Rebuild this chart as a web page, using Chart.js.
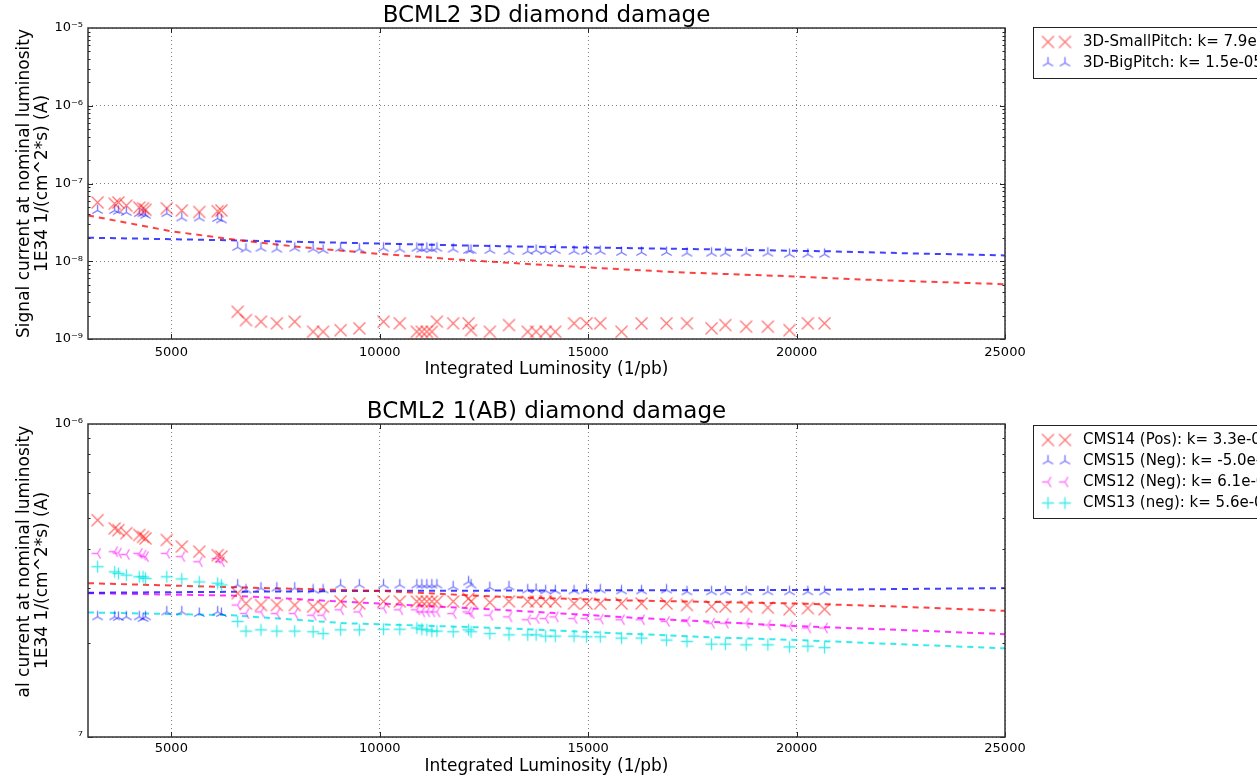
<!DOCTYPE html>
<html>
<head>
<meta charset="utf-8">
<script src="https://cdn.jsdelivr.net/npm/chart.js@4.4.1/dist/chart.umd.min.js"></script>
<style>
  html, body { margin: 0; padding: 0; background: #fff; overflow: hidden; }
  .panel { position: absolute; left: 0; width: 1257px; height: 390px; }
  #topPanel { top: 0; }
  #bottomPanel { top: 390px; }
</style>
</head>
<body>
<div class="panel" id="topPanel"><canvas id="topChart" width="1257" height="390"></canvas></div>
<div class="panel" id="bottomPanel"><canvas id="bottomChart" width="1257" height="390"></canvas></div>
<script>
// DATA
// integrated luminosity of each point (1/pb), shared by every series
const lumi = [
  3230, 3640, 3730, 3920, 4230, 4320, 4380, 4890, 5250, 5670, 6110, 6200,
  6590, 6790, 7150, 7530, 7960, 8400, 8640, 9060, 9510, 10090,
  10480, 10890, 11010, 11130, 11250, 11370, 11760, 12130, 12190, 12640,
  13100, 13550, 13750, 13980, 14210, 14660, 14960, 15290, 15800, 16280,
  16880, 17370, 17960, 18290, 18790, 19310, 19830, 20270, 20670
];

// top panel: 3D diamonds
const smallPitch = [
  5.7e-8, 5.5e-8, 5.7e-8, 5.2e-8, 4.9e-8, 4.8e-8, 4.6e-8, 4.8e-8, 4.5e-8, 4.3e-8, 4.4e-8, 4.5e-8,
  2.24e-9, 1.75e-9, 1.67e-9, 1.59e-9, 1.67e-9, 1.24e-9, 1.24e-9, 1.30e-9, 1.37e-9, 1.67e-9,
  1.59e-9, 1.24e-9, 1.24e-9, 1.24e-9, 1.24e-9, 1.67e-9, 1.59e-9, 1.59e-9, 1.30e-9, 1.24e-9,
  1.51e-9, 1.24e-9, 1.24e-9, 1.24e-9, 1.24e-9, 1.59e-9, 1.59e-9, 1.59e-9, 1.24e-9, 1.59e-9,
  1.59e-9, 1.59e-9, 1.37e-9, 1.51e-9, 1.44e-9, 1.44e-9, 1.30e-9, 1.59e-9, 1.59e-9
];
const bigPitch = [
  4.5e-8, 4.5e-8, 4.4e-8, 4.25e-8, 4.1e-8, 4.1e-8, 3.9e-8, 4.1e-8, 3.6e-8, 3.6e-8, 3.55e-8, 3.4e-8,
  1.51e-8, 1.43e-8, 1.47e-8, 1.43e-8, 1.47e-8, 1.43e-8, 1.38e-8, 1.47e-8, 1.43e-8, 1.47e-8,
  1.43e-8, 1.47e-8, 1.43e-8, 1.47e-8, 1.43e-8, 1.47e-8, 1.43e-8, 1.38e-8, 1.38e-8, 1.38e-8,
  1.34e-8, 1.34e-8, 1.38e-8, 1.34e-8, 1.38e-8, 1.34e-8, 1.34e-8, 1.34e-8, 1.30e-8, 1.30e-8,
  1.30e-8, 1.27e-8, 1.27e-8, 1.27e-8, 1.27e-8, 1.27e-8, 1.23e-8, 1.23e-8, 1.23e-8
];
const fitSmallX = [3000, 5000, 6500, 8100, 9860, 11770, 13640, 15480, 17320, 19550, 21540, 25000];
const fitSmallY = [3.89e-8, 2.43e-8, 1.90e-8, 1.52e-8, 1.26e-8, 1.06e-8, 9.16e-9, 8.05e-9, 7.16e-9, 6.49e-9, 5.82e-9, 5.07e-9];
const fitBigX = [3000, 6440, 9930, 12900, 17640, 20820, 22830, 25000];
const fitBigY = [2.01e-8, 1.86e-8, 1.69e-8, 1.56e-8, 1.43e-8, 1.34e-8, 1.26e-8, 1.19e-8];

// bottom panel: 1(AB) diamonds
const cms14 = [
  4.93e-7, 4.64e-7, 4.58e-7, 4.48e-7, 4.42e-7, 4.36e-7, 4.31e-7, 4.26e-7, 4.06e-7, 3.91e-7, 3.81e-7, 3.77e-7,
  2.88e-7, 2.67e-7, 2.64e-7, 2.64e-7, 2.64e-7, 2.61e-7, 2.61e-7, 2.71e-7, 2.67e-7, 2.71e-7,
  2.71e-7, 2.71e-7, 2.71e-7, 2.71e-7, 2.71e-7, 2.71e-7, 2.71e-7, 2.77e-7, 2.71e-7, 2.69e-7,
  2.71e-7, 2.71e-7, 2.71e-7, 2.71e-7, 2.71e-7, 2.67e-7, 2.67e-7, 2.67e-7, 2.67e-7, 2.67e-7,
  2.67e-7, 2.64e-7, 2.61e-7, 2.61e-7, 2.61e-7, 2.59e-7, 2.56e-7, 2.58e-7, 2.56e-7
];
const cms15 = [
  2.42e-7, 2.42e-7, 2.41e-7, 2.42e-7, 2.42e-7, 2.39e-7, 2.42e-7, 2.51e-7, 2.51e-7, 2.48e-7, 2.51e-7, 2.48e-7,
  3.06e-7, 2.95e-7, 2.99e-7, 2.99e-7, 2.99e-7, 2.95e-7, 2.95e-7, 3.06e-7, 3.06e-7, 3.06e-7,
  3.06e-7, 3.06e-7, 3.06e-7, 3.06e-7, 3.06e-7, 3.06e-7, 3.02e-7, 3.13e-7, 3.06e-7, 3.00e-7,
  3.02e-7, 2.95e-7, 2.96e-7, 2.93e-7, 2.93e-7, 2.93e-7, 2.95e-7, 2.95e-7, 2.93e-7, 2.93e-7,
  2.95e-7, 2.91e-7, 2.91e-7, 2.91e-7, 2.91e-7, 2.91e-7, 2.91e-7, 2.91e-7, 2.91e-7
];
const cms12 = [
  3.86e-7, 3.91e-7, 3.87e-7, 3.83e-7, 3.86e-7, 3.81e-7, 3.77e-7, 3.86e-7, 3.77e-7, 3.63e-7, 3.72e-7, 3.63e-7,
  2.64e-7, 2.48e-7, 2.51e-7, 2.48e-7, 2.48e-7, 2.45e-7, 2.45e-7, 2.55e-7, 2.51e-7, 2.58e-7,
  2.55e-7, 2.55e-7, 2.51e-7, 2.51e-7, 2.51e-7, 2.51e-7, 2.48e-7, 2.51e-7, 2.48e-7, 2.45e-7,
  2.42e-7, 2.37e-7, 2.39e-7, 2.39e-7, 2.42e-7, 2.39e-7, 2.39e-7, 2.38e-7, 2.37e-7, 2.37e-7,
  2.34e-7, 2.34e-7, 2.31e-7, 2.31e-7, 2.31e-7, 2.28e-7, 2.26e-7, 2.23e-7, 2.23e-7
];
const cms13 = [
  3.50e-7, 3.37e-7, 3.33e-7, 3.29e-7, 3.25e-7, 3.25e-7, 3.21e-7, 3.25e-7, 3.20e-7, 3.13e-7, 3.10e-7, 3.06e-7,
  2.34e-7, 2.18e-7, 2.20e-7, 2.18e-7, 2.18e-7, 2.17e-7, 2.14e-7, 2.20e-7, 2.20e-7, 2.21e-7,
  2.21e-7, 2.23e-7, 2.21e-7, 2.20e-7, 2.18e-7, 2.18e-7, 2.17e-7, 2.20e-7, 2.17e-7, 2.14e-7,
  2.12e-7, 2.12e-7, 2.12e-7, 2.10e-7, 2.10e-7, 2.10e-7, 2.09e-7, 2.09e-7, 2.07e-7, 2.07e-7,
  2.04e-7, 2.02e-7, 1.98e-7, 1.98e-7, 1.97e-7, 1.97e-7, 1.94e-7, 1.95e-7, 1.93e-7
];
const fit14X = [3000, 6440, 10000, 13000, 16000, 20030, 22425, 25000];
const fit14Y = [3.10e-7, 3.01e-7, 2.93e-7, 2.80e-7, 2.73e-7, 2.67e-7, 2.61e-7, 2.53e-7];
const fit15X = [3000, 10000, 20030, 22425, 25000];
const fit15Y = [2.89e-7, 2.93e-7, 2.95e-7, 2.97e-7, 2.99e-7];
const fit12X = [3000, 6440, 9060, 12850, 16440, 20030, 22425, 25000];
const fit12Y = [2.88e-7, 2.83e-7, 2.71e-7, 2.55e-7, 2.39e-7, 2.26e-7, 2.20e-7, 2.13e-7];
const fit13X = [3000, 6440, 9150, 12850, 17640, 20030, 22425, 25000];
const fit13Y = [2.50e-7, 2.45e-7, 2.31e-7, 2.23e-7, 2.09e-7, 2.04e-7, 1.98e-7, 1.92e-7];

// ticks and labels
const xTicks = [5000, 10000, 15000, 20000, 25000];
const topYTicks = [1e-9, 1e-8, 1e-7, 1e-6, 1e-5];
const topYLabels = ['10⁻⁹', '10⁻⁸', '10⁻⁷', '10⁻⁶', '10⁻⁵'];
const bottomYTicks = [1e-7, 1e-6];
const bottomYLabels = ['⁷', '10⁻⁶'];
const topLabels = ['3D-SmallPitch: k= 7.9e-05', '3D-BigPitch: k= 1.5e-05'];
const bottomLabels = ['CMS14 (Pos): k= 3.3e-06', 'CMS15 (Neg): k= -5.0e-07', 'CMS12 (Neg): k= 6.1e-06', 'CMS13 (neg): k= 5.6e-06'];

Chart.defaults.font.family = 'DejaVu Sans';
Chart.defaults.color = '#000';

// matplotlib-like markers drawn on small canvases
function makeMarker(shape, color) {
  const size = 15, c = document.createElement('canvas');
  c.width = size; c.height = size;
  const g = c.getContext('2d'), m = size / 2, r = 6;
  g.strokeStyle = color;
  g.lineWidth = 1.3;
  g.beginPath();
  if (shape === 'x') {
    g.moveTo(m - r, m - r); g.lineTo(m + r, m + r);
    g.moveTo(m + r, m - r); g.lineTo(m - r, m + r);
  } else if (shape === '+') {
    g.moveTo(m - r, m); g.lineTo(m + r, m);
    g.moveTo(m, m - r); g.lineTo(m, m + r);
  } else {
    const arms = shape === 'triUp' ? [-Math.PI / 2, Math.PI / 6, 5 * Math.PI / 6] : [Math.PI, -Math.PI / 3, Math.PI / 3];
    arms.forEach(a => { g.moveTo(m, m); g.lineTo(m + r * Math.cos(a), m + r * Math.sin(a)); });
  }
  g.stroke();
  return c;
}

const redX = makeMarker('x', 'rgba(255,0,0,0.55)');
const blueTri = makeMarker('triUp', 'rgba(0,0,255,0.55)');
const magTri = makeMarker('triLeft', 'rgba(255,0,255,0.55)');
const cyanPlus = makeMarker('+', 'rgba(0,230,230,0.75)');

function points(label, ys, marker) {
  return { label, legend: true, data: lumi.map((x, i) => ({ x, y: ys[i] })), pointStyle: marker, pointRadius: 6, pointHoverRadius: 6, showLine: false };
}
function fitLine(xs, ys, color) {
  return { data: xs.map((x, i) => ({ x, y: ys[i] })), showLine: true, pointRadius: 0, borderColor: color, borderWidth: 2, borderDash: [6, 5], fill: false };
}

// frame + inward ticks like the classic matplotlib axes
const frameTicks = {
  id: 'frameTicks',
  afterDatasetsDraw(chart) {
    const { ctx, chartArea: a, scales: { x, y } } = chart;
    ctx.save();
    ctx.strokeStyle = '#222';
    ctx.lineWidth = 1;
    ctx.beginPath();
    x.ticks.forEach(t => {
      const px = Math.round(x.getPixelForValue(t.value)) + 0.5;
      ctx.moveTo(px, a.bottom); ctx.lineTo(px, a.bottom - 5);
      ctx.moveTo(px, a.top); ctx.lineTo(px, a.top + 5);
    });
    const lo = Math.round(Math.log10(y.min)), hi = Math.round(Math.log10(y.max));
    for (let e = lo; e < hi; e++) {
      for (let k = 1; k < 10; k++) {
        const py = Math.round(y.getPixelForValue(k * Math.pow(10, e))) + 0.5;
        const len = k === 1 ? 5 : 2.5;
        ctx.moveTo(a.left, py); ctx.lineTo(a.left + len, py);
        ctx.moveTo(a.right, py); ctx.lineTo(a.right - len, py);
      }
    }
    ctx.stroke();
    ctx.lineWidth = 1.5;
    ctx.strokeStyle = '#333';
    ctx.strokeRect(a.left, a.top, a.right - a.left, a.bottom - a.top);
    ctx.restore();
  }
};

// boxed legend to the right of the axes (runs off the page like the original)
const mplLegend = {
  id: 'mplLegend',
  afterDraw(chart, args, opts) {
    const { ctx } = chart;
    const items = chart.data.datasets.filter(d => d.legend);
    const h = opts.pad * 2 + items.length * opts.rowH;
    ctx.save();
    ctx.fillStyle = '#fff';
    ctx.fillRect(opts.left, opts.top, 400, h);
    ctx.strokeStyle = '#222';
    ctx.lineWidth = 1;
    ctx.strokeRect(opts.left + 0.5, opts.top + 0.5, 400, h);
    ctx.font = '15px "DejaVu Sans"';
    ctx.fillStyle = '#000';
    ctx.textBaseline = 'middle';
    items.forEach((d, i) => {
      const yy = opts.top + opts.pad + opts.rowH * (i + 0.5);
      opts.markers.forEach(mx => ctx.drawImage(d.pointStyle, mx - 7.5, yy - 7.5));
      ctx.fillText(d.label, opts.textX, yy);
    });
    ctx.restore();
  }
};
Chart.register(frameTicks, mplLegend);

function panelOptions(cfg) {
  return {
    responsive: false,
    animation: false,
    events: [],
    layout: { padding: { left: 0, right: 252, top: 0, bottom: 0 } },
    plugins: {
      legend: { display: false },
      tooltip: { enabled: false },
      title: { display: true, fullSize: false, text: cfg.title, color: '#000', font: { size: 23, weight: 'normal', lineHeight: 1 }, padding: cfg.titlePad },
      mplLegend: { left: 1033, top: cfg.legendTop, pad: 4.5, rowH: 21, markers: [1048, 1065], textX: 1083 }
    },
    scales: {
      x: {
        type: 'linear', min: 3000, max: 25000,
        afterBuildTicks: s => { s.ticks = xTicks.map(v => ({ value: v })); },
        afterFit: s => { s.height = cfg.xAxisHeight; },
        ticks: { autoSkip: false, maxRotation: 0, font: { size: 13 }, padding: cfg.xTickPad, callback: v => String(v) },
        grid: { color: 'rgba(0,0,0,0.5)', lineWidth: 1, drawTicks: false },
        border: { display: false, dash: [1, 3] },
        title: { display: true, text: 'Integrated Luminosity (1/pb)', font: { size: 17, lineHeight: 1.2 }, padding: { top: 0, bottom: cfg.xTitlePad } }
      },
      y: {
        type: 'logarithmic', min: cfg.yTicks[0], max: cfg.yTicks[cfg.yTicks.length - 1],
        afterBuildTicks: s => { s.ticks = cfg.yTicks.map(v => ({ value: v })); },
        afterFit: s => { s.width = 88; },
        ticks: { autoSkip: false, font: { size: 13 }, padding: 5, callback: v => cfg.yLabels[cfg.yTicks.indexOf(v)] },
        grid: { color: 'rgba(0,0,0,0.5)', lineWidth: 1, drawTicks: false },
        border: { display: false, dash: [1, 3] },
        title: { display: true, text: cfg.yTitle, font: { size: 17, lineHeight: 1.06 }, padding: { top: 16, bottom: 0 } }
      }
    }
  };
}

new Chart(document.getElementById('topChart'), {
  type: 'scatter',
  data: {
    datasets: [
      points(topLabels[0], smallPitch, redX),
      points(topLabels[1], bigPitch, blueTri),
      fitLine(fitSmallX, fitSmallY, 'rgba(255,0,0,0.75)'),
      fitLine(fitBigX, fitBigY, 'rgba(0,0,255,0.75)')
    ]
  },
  options: panelOptions({
    title: 'BCML2 3D diamond damage',
    titlePad: { top: 4.5, bottom: 0.5 },
    legendTop: 27,
    xAxisHeight: 51, xTickPad: 6, xTitlePad: 9.8,
    yTicks: topYTicks, yLabels: topYLabels,
    yTitle: ['Signal current at nominal luminosity', '1E34 1/(cm^2*s) (A)']
  })
});

new Chart(document.getElementById('bottomChart'), {
  type: 'scatter',
  data: {
    datasets: [
      points(bottomLabels[0], cms14, redX),
      points(bottomLabels[1], cms15, blueTri),
      points(bottomLabels[2], cms12, magTri),
      points(bottomLabels[3], cms13, cyanPlus),
      fitLine(fit14X, fit14Y, 'rgba(255,0,0,0.75)'),
      fitLine(fit15X, fit15Y, 'rgba(0,0,255,0.75)'),
      fitLine(fit12X, fit12Y, 'rgba(255,0,255,0.8)'),
      fitLine(fit13X, fit13Y, 'rgba(0,230,230,0.8)')
    ]
  },
  options: panelOptions({
    title: 'BCML2 1(AB) diamond damage',
    titlePad: { top: 11, bottom: 0 },
    legendTop: 35,
    xAxisHeight: 43, xTickPad: 4, xTitlePad: 2.8,
    yTicks: bottomYTicks, yLabels: bottomYLabels,
    yTitle: ['       al current at nominal luminosity', '1E34 1/(cm^2*s) (A)']
  })
});
</script>
</body>
</html>
